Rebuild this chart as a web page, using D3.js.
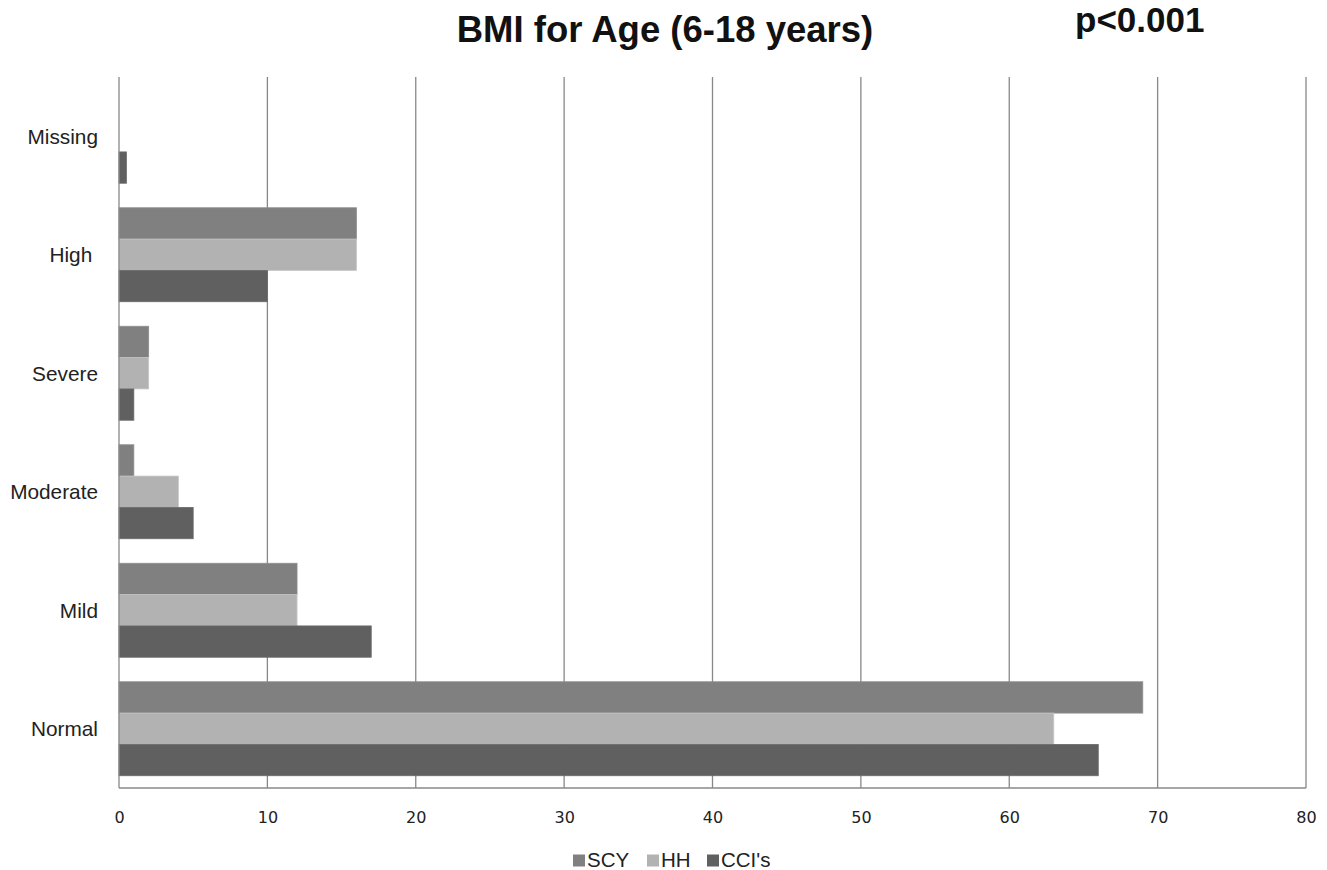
<!DOCTYPE html>
<html><head><meta charset="utf-8">
<script src="https://cdn.jsdelivr.net/npm/d3@7"></script>
<style>body{margin:0;background:#fff;} svg{display:block;}</style>
</head><body>
<svg id="c" width="1327" height="870"></svg>
<script>
const categories = ["Missing", "High ", "Severe", "Moderate", "Mild", "Normal"];
const seriesNames = ["SCY", "HH", "CCI's"];
const scy = [0, 16, 2, 1, 12, 69];
const hh = [0, 16, 2, 4, 12, 63];
const cci = [0.5, 10, 1, 5, 17, 66];
const xTicks = [0, 10, 20, 30, 40, 50, 60, 70, 80];
const colors = ["#808080", "#b2b2b2", "#606060"];

(function () {
const svg = d3.select("#c");
const pLeft = 119, pRight = 1306, pTop = 77, pBottom = 788;
const x = d3.scaleLinear().domain([0, 80]).range([pLeft, pRight]);
const y = d3.scaleBand().domain(categories).range([pTop, pBottom]).paddingInner(0.207).paddingOuter(0.1035);
const ys = d3.scaleBand().domain(seriesNames).range([0, y.bandwidth()]);
const values = [scy, hh, cci];

// gridlines
svg.append("g").selectAll("line").data(xTicks.slice(1)).join("line")
  .attr("x1", d => x(d)).attr("x2", d => x(d))
  .attr("y1", pTop).attr("y2", pBottom)
  .attr("stroke", "#888").attr("stroke-width", 1.3);

// bars
seriesNames.forEach((s, si) => {
  svg.append("g").selectAll("rect").data(categories).join("rect")
    .attr("x", x(0))
    .attr("y", c => y(c) + ys(s))
    .attr("width", (c, i) => x(values[si][i]) - x(0))
    .attr("height", ys.bandwidth())
    .attr("fill", colors[si])
    .attr("stroke", d3.color(colors[si]).brighter(0.3))
    .attr("stroke-width", (c, i) => values[si][i] > 0 ? 0.8 : 0);
});

// axes lines
svg.append("line").attr("x1", pLeft).attr("x2", pLeft).attr("y1", pTop).attr("y2", pBottom)
  .attr("stroke", "#888").attr("stroke-width", 1.3);
svg.append("line").attr("x1", pLeft).attr("x2", pRight).attr("y1", pBottom).attr("y2", pBottom)
  .attr("stroke", "#888").attr("stroke-width", 1.3);

// x tick labels
const xAxis = d3.axisBottom(x).tickValues(xTicks).tickSize(0).tickPadding(0);
const gx = svg.append("g").attr("transform", `translate(0,${pBottom + 35})`).call(xAxis);
gx.select(".domain").remove();
gx.selectAll("text").attr("font-family", "DejaVu Sans, Verdana, sans-serif").attr("font-size", 16).attr("fill", "#222").attr("dy", 0);

// y category labels
const yAxis = d3.axisLeft(y).tickSize(0).tickPadding(0);
const gy = svg.append("g").attr("transform", `translate(98,0)`).call(yAxis);
gy.select(".domain").remove();
gy.selectAll("text").attr("font-family", "Liberation Sans, Arial, sans-serif").attr("font-size", 20.8)
  .attr("fill", "#222").style("white-space", "pre").attr("dy", "0.35em");

// title
svg.append("text").attr("x", 665).attr("y", 42).attr("text-anchor", "middle")
  .attr("font-family", "Liberation Sans, Arial, sans-serif").attr("font-weight", "bold").attr("font-size", 36.5)
  .attr("fill", "#111").text("BMI for Age (6-18 years)");
svg.append("text").attr("x", 1075).attr("y", 32)
  .attr("font-family", "Liberation Sans, Arial, sans-serif").attr("font-weight", "bold").attr("font-size", 35)
  .attr("fill", "#111").text("p<0.001");

// legend
const legX = [573, 647, 707];
const lg = svg.append("g");
seriesNames.forEach((s, i) => {
  lg.append("rect").attr("x", legX[i]).attr("y", 854.5).attr("width", 12).attr("height", 12).attr("fill", colors[i]);
  lg.append("text").attr("x", legX[i] + 14).attr("y", 867)
    .attr("font-family", "Liberation Sans, Arial, sans-serif").attr("font-size", 20.5).attr("fill", "#222").text(s);
});
})();
</script>
</body></html>
